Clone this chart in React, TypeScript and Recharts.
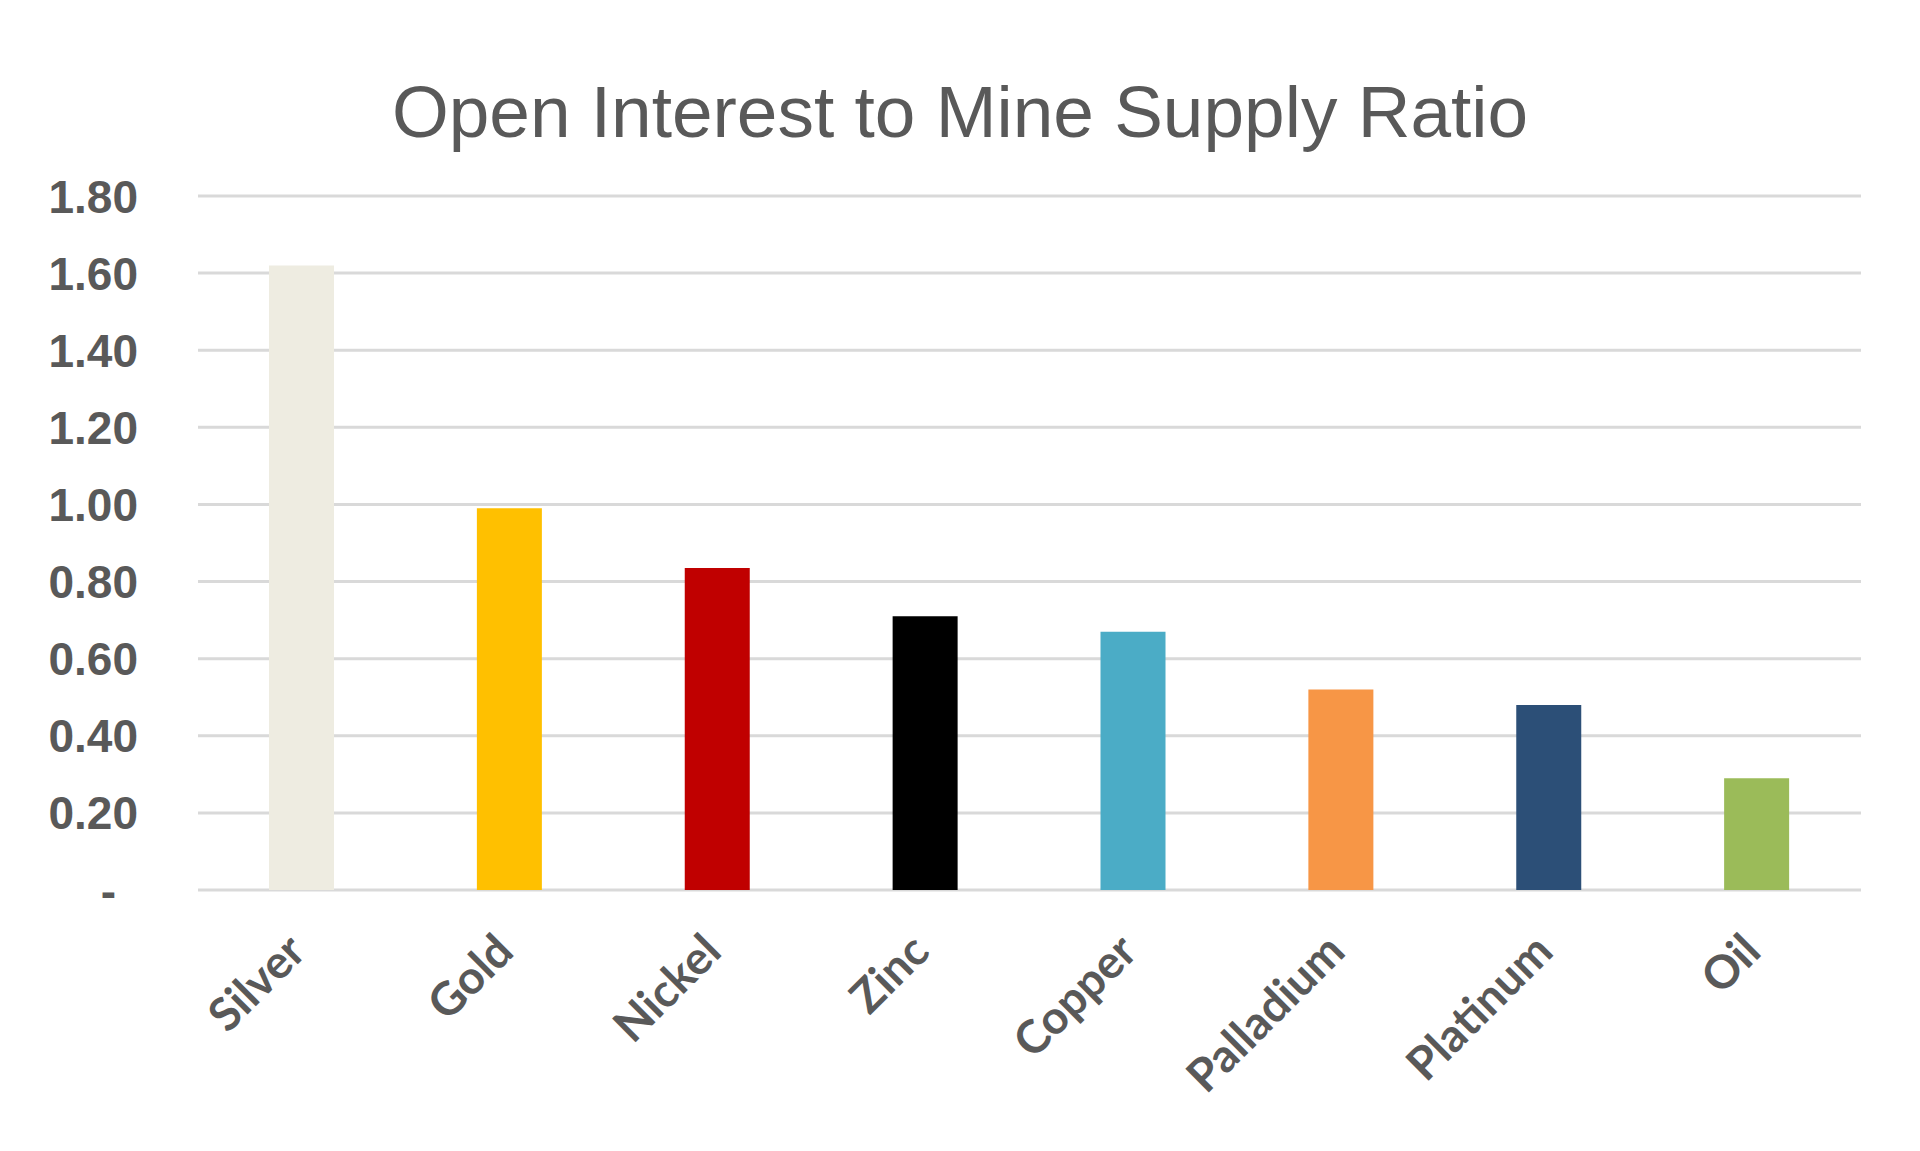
import React from 'react';
import { BarChart, Bar, XAxis, YAxis, CartesianGrid, Cell } from 'recharts';

const categories = ['Silver', 'Gold', 'Nickel', 'Zinc', 'Copper', 'Palladium', 'Platinum', 'Oil'];
const ratios = [1.62, 0.99, 0.835, 0.71, 0.67, 0.52, 0.48, 0.29];
const barColors = ['#EEECE1', '#FFC000', '#C00000', '#000000', '#4BACC6', '#F79646', '#2C4F77', '#9BBB59'];
const yTicks = [0, 0.2, 0.4, 0.6, 0.8, 1.0, 1.2, 1.4, 1.6, 1.8];
const titleText = 'Open Interest to Mine Supply Ratio';

const data = categories.map((name, i) => ({ name, value: ratios[i] }));

const YTick = (props: any) => {
  const { y, payload } = props;
  const v = payload.value;
  const isZero = v === 0;
  const label = isZero ? '-' : v.toFixed(2);
  return (
    <text
      x={isZero ? 116 : 138}
      y={y}
      dy="0.36em"
      textAnchor="end"
      fill="#595959"
      fontFamily="'Liberation Sans', Arial, sans-serif"
      fontWeight={700}
      fontSize={46}
    >
      {label}
    </text>
  );
};

const XTick = (props: any) => {
  const { x, y, payload } = props;
  const ax = x + 6;
  const ay = y + 56;
  return (
    <text
      x={ax}
      y={ay}
      textAnchor="end"
      transform={`rotate(-45 ${ax} ${ay})`}
      fill="#595959"
      fontFamily="Lato, 'Open Sans', sans-serif"
      fontWeight={700}
      fontSize={46}
    >
      {payload.value}
    </text>
  );
};

export default function App() {
  return (
    <div style={{ position: 'absolute', left: 0, top: 0, width: 1920, height: 1151, background: '#fff' }}>
      <div
        style={{
          position: 'absolute',
          left: 0,
          top: 75,
          width: 1920,
          textAlign: 'center',
          fontFamily: "'Liberation Sans', Arial, sans-serif",
          fontSize: 73,
          lineHeight: '74px',
          color: '#595959',
          whiteSpace: 'nowrap',
        }}
      >
        {titleText}
      </div>
      <BarChart
        width={1920}
        height={1151}
        data={data}
        margin={{ top: 196, right: 59, bottom: 61, left: 0 }}
      >
        <CartesianGrid vertical={false} stroke="#D9D9D9" strokeWidth={3} />
        <XAxis
          dataKey="name"
          axisLine={false}
          tickLine={false}
          interval={0}
          height={200}
          tick={<XTick />}
        />
        <YAxis
          width={198}
          domain={[0, 1.8]}
          ticks={yTicks}
          axisLine={false}
          tickLine={false}
          interval={0}
          tick={<YTick />}
        />
        <Bar dataKey="value" barSize={65} isAnimationActive={false}>
          {data.map((d, i) => (
            <Cell key={d.name} fill={barColors[i]} />
          ))}
        </Bar>
      </BarChart>
    </div>
  );
}
